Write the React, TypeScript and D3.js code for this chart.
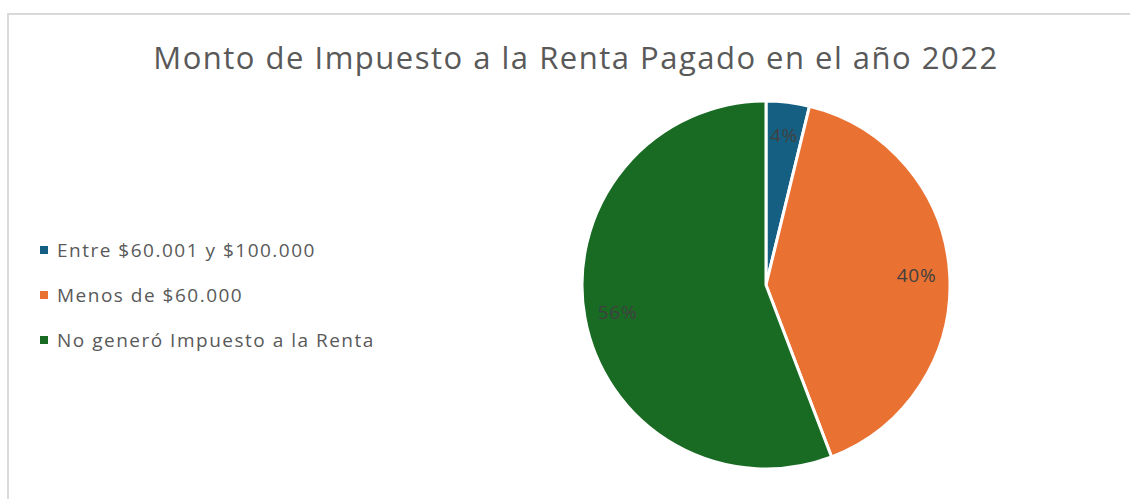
import React from "react";
import * as d3 from "d3";

const categories = ["Entre $60.001 y $100.000", "Menos de $60.000", "No generó Impuesto a la Renta"];
const values = [3.8, 40.4, 55.8];
const colors = ["#156082", "#E97132", "#196B24"];
const title = "Monto de Impuesto a la Renta Pagado en el año 2022";

export default function App() {
  const width = 1130;
  const height = 499;
  const cx = 766;
  const cy = 285;
  const radius = 184;
  const font = "'Open Sans', 'Noto Sans', sans-serif";

  const total = d3.sum(values);
  const pie = d3.pie<number>().sort(null).value(d => d);
  const arcs = pie(values);
  const arc = d3.arc<d3.PieArcDatum<number>>().innerRadius(0).outerRadius(radius);
  const labelArc = d3.arc<d3.PieArcDatum<number>>().innerRadius(radius * 0.82).outerRadius(radius * 0.82);
  const fmt = d3.format(".0%");

  const legendY = d3.scalePoint<string>().domain(categories).range([250, 340]);

  return (
    <svg width={width} height={height} style={{ position: "absolute", left: 0, top: 0, background: "#fff" }}>
      <rect x={8} y={14} width={width} height={height} fill="#fff" stroke="#d9d9d9" strokeWidth={2} />
      <text x={576} y={69} textAnchor="middle" fontFamily={font} fontSize={31} letterSpacing={1.5} fill="#595959">
        {title}
      </text>
      <g transform={`translate(${cx},${cy})`}>
        {arcs.map((a, i) => (
          <path key={i} d={arc(a) || ""} fill={colors[i]} stroke="#fff" strokeWidth={3} />
        ))}
        {arcs.map((a, i) => {
          const [x, y] = labelArc.centroid(a);
          return (
            <text key={i} x={x} y={y} dy="0.35em" textAnchor="middle" fontFamily={font} fontSize={19} letterSpacing={0.8} fill="#404040">
              {fmt(a.data / total)}
            </text>
          );
        })}
      </g>
      <g>
        {categories.map((c, i) => (
          <g key={c} transform={`translate(40,${legendY(c)})`}>
            <rect x={0} y={-4} width={8} height={8} fill={colors[i]} />
            <text x={17} y={0} dy="0.35em" fontFamily={font} fontSize={19} letterSpacing={1.5} fill="#595959">
              {c}
            </text>
          </g>
        ))}
      </g>
    </svg>
  );
}
